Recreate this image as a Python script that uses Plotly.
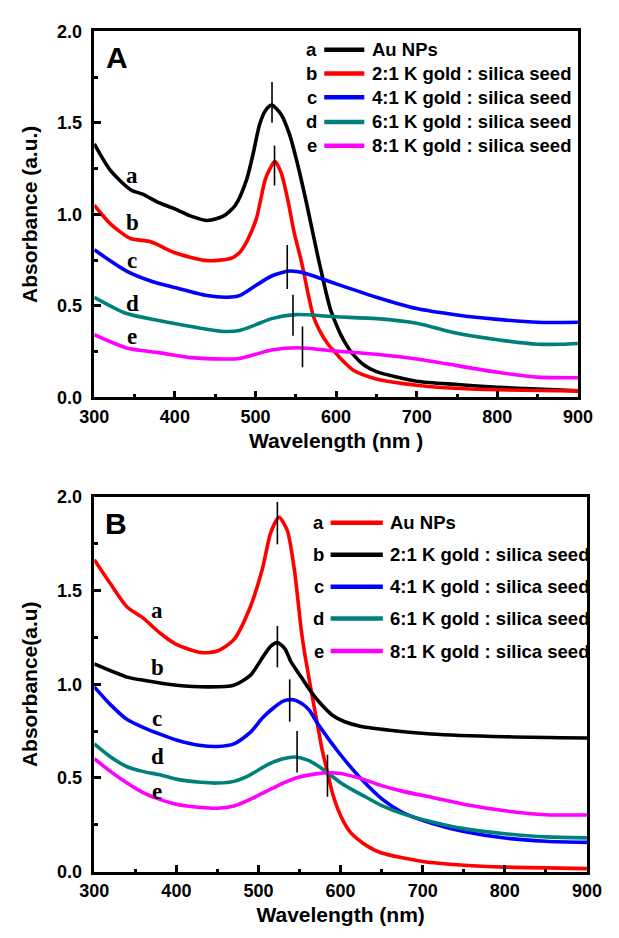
import plotly.graph_objects as go

# ---------------- Panel A data ----------------
A_a_x = [300, 320, 345, 360, 380, 400, 420, 440, 460, 475, 489, 497, 505, 512, 520, 532, 542, 552, 564, 576, 582, 587, 593, 600, 606, 613, 620, 635, 650, 700, 750, 800, 850, 900]
A_a_y = [1.385, 1.24, 1.135, 1.11, 1.064, 1.03, 0.99, 0.966, 0.99, 1.05, 1.19, 1.33, 1.49, 1.565, 1.597, 1.545, 1.44, 1.278, 1.047, 0.797, 0.68, 0.583, 0.48, 0.40, 0.34, 0.285, 0.24, 0.175, 0.14, 0.088, 0.07, 0.055, 0.045, 0.035]
A_b_x = [300, 320, 345, 370, 400, 440, 470, 480, 489, 501, 512, 518, 524, 532, 540, 548, 556, 560, 566, 572, 580, 590, 598, 606, 622, 650, 700, 767, 900]
A_b_y = [1.05, 0.948, 0.868, 0.85, 0.79, 0.747, 0.76, 0.79, 0.85, 0.975, 1.19, 1.25, 1.29, 1.225, 1.08, 0.90, 0.76, 0.68, 0.55, 0.44, 0.36, 0.29, 0.25, 0.21, 0.146, 0.10, 0.066, 0.045, 0.035]
A_c_x = [300, 340, 370, 400, 440, 465, 480, 500, 520, 542, 560, 600, 650, 700, 750, 800, 850, 900]
A_c_y = [0.806, 0.69, 0.636, 0.6, 0.556, 0.547, 0.556, 0.61, 0.663, 0.69, 0.68, 0.62, 0.547, 0.485, 0.45, 0.426, 0.41, 0.41]
A_d_x = [300, 340, 380, 420, 460, 480, 500, 520, 550, 600, 650, 700, 750, 800, 850, 880, 900]
A_d_y = [0.547, 0.458, 0.42, 0.387, 0.36, 0.365, 0.396, 0.43, 0.452, 0.44, 0.43, 0.405, 0.35, 0.315, 0.29, 0.29, 0.294]
A_e_x = [300, 340, 380, 420, 460, 480, 500, 520, 552, 600, 650, 700, 750, 800, 850, 900]
A_e_y = [0.342, 0.27, 0.244, 0.217, 0.209, 0.212, 0.235, 0.258, 0.271, 0.253, 0.235, 0.209, 0.173, 0.137, 0.11, 0.107]

# peak markers (wavelength, low, high)
A_peak_x = [520.5, 523.6, 539.4, 546.5, 558.3]
A_peak_lo = [1.50, 1.157, 0.592, 0.337, 0.164]
A_peak_hi = [1.724, 1.376, 0.833, 0.56, 0.387]

# ---------------- Panel B data ----------------
B_a_x = [300, 320, 340, 360, 380, 400, 430, 450, 470, 490, 505, 515, 525, 535, 544, 552, 556, 560, 564, 572, 578, 584, 590, 597, 604, 612, 620, 635, 650, 700, 750, 800, 900]
B_a_y = [1.664, 1.534, 1.412, 1.351, 1.273, 1.212, 1.169, 1.177, 1.238, 1.412, 1.62, 1.81, 1.89, 1.82, 1.60, 1.29, 1.17, 1.07, 0.97, 0.78, 0.64, 0.53, 0.42, 0.33, 0.264, 0.21, 0.177, 0.13, 0.10, 0.055, 0.035, 0.025, 0.017]
B_b_x = [300, 340, 360, 400, 440, 470, 490, 505, 515, 523, 532, 540, 552, 564, 575, 590, 605, 625, 660, 710, 800, 900]
B_b_y = [1.108, 1.038, 1.021, 0.995, 0.986, 0.995, 1.047, 1.143, 1.203, 1.222, 1.19, 1.116, 1.038, 0.96, 0.90, 0.835, 0.80, 0.775, 0.755, 0.735, 0.72, 0.713]
B_c_x = [300, 320, 340, 360, 380, 400, 430, 450, 470, 490, 505, 520, 530, 542, 555, 562, 572, 585, 597, 610, 624, 651, 675, 713, 750, 800, 850, 900]
B_c_y = [0.986, 0.89, 0.812, 0.769, 0.734, 0.703, 0.673, 0.668, 0.682, 0.743, 0.821, 0.88, 0.91, 0.917, 0.89, 0.86, 0.79, 0.71, 0.64, 0.57, 0.50, 0.386, 0.317, 0.256, 0.215, 0.18, 0.163, 0.157]
B_d_x = [300, 320, 340, 360, 380, 400, 430, 450, 470, 490, 510, 530, 545, 560, 574, 585, 600, 614, 630, 651, 675, 713, 750, 800, 850, 900]
B_d_y = [0.682, 0.612, 0.56, 0.534, 0.517, 0.494, 0.477, 0.473, 0.482, 0.517, 0.569, 0.603, 0.612, 0.595, 0.56, 0.525, 0.475, 0.438, 0.40, 0.351, 0.31, 0.264, 0.23, 0.203, 0.186, 0.181]
B_e_x = [300, 320, 340, 360, 380, 400, 430, 450, 470, 490, 510, 530, 550, 570, 585, 600, 614, 630, 651, 675, 713, 750, 800, 850, 900]
B_e_y = [0.603, 0.534, 0.473, 0.421, 0.386, 0.36, 0.343, 0.339, 0.351, 0.386, 0.43, 0.473, 0.505, 0.522, 0.528, 0.524, 0.51, 0.49, 0.458, 0.43, 0.395, 0.36, 0.325, 0.304, 0.303]

B_peak_x = [523, 523, 538, 547, 584]
B_peak_lo = [1.746, 1.09, 0.80, 0.529, 0.40]
B_peak_hi = [1.972, 1.311, 1.026, 0.751, 0.624]

# ---------------- labels ----------------
letters = ["a", "b", "c", "d", "e"]
legend_names = ["Au NPs", "2:1 K gold : silica seed", "4:1 K gold : silica seed",
                "6:1 K gold : silica seed", "8:1 K gold : silica seed"]
A_colors = ["#000000", "#ff0000", "#0000ff", "#00807a", "#ff00ff"]
B_colors = ["#ff0000", "#000000", "#0000ff", "#00807a", "#ff00ff"]
A_label_x = [347, 347, 347, 347, 347]
A_label_y = [1.215, 0.957, 0.747, 0.515, 0.333]
B_label_x = [377, 377, 377, 377, 377]
B_label_y = [1.391, 1.09, 0.817, 0.612, 0.43]

# page is 619x938; the browser body adds an 8 px margin, so the figure is sized to fit inside it
PAGE_W, PAGE_H, OFF = 619, 938, 8
W, H = PAGE_W - 2 * OFF, PAGE_H - 2 * OFF


def dx(px0, px1):
    return [(px0 - OFF) / W, (px1 - OFF) / W]


def dy(top, bottom):
    return [1 - (bottom - OFF) / H, 1 - (top - OFF) / H]


SANS = "Liberation Sans, Arial, Helvetica, sans-serif"
SERIF = "Liberation Serif, Times New Roman, serif"

fig = go.Figure()

panels = [
    ("x", "y", [A_a_x, A_b_x, A_c_x, A_d_x, A_e_x], [A_a_y, A_b_y, A_c_y, A_d_y, A_e_y], A_colors,
     A_peak_x, A_peak_lo, A_peak_hi, A_label_x, A_label_y),
    ("x2", "y2", [B_a_x, B_b_x, B_c_x, B_d_x, B_e_x], [B_a_y, B_b_y, B_c_y, B_d_y, B_e_y], B_colors,
     B_peak_x, B_peak_lo, B_peak_hi, B_label_x, B_label_y),
]

for xa, ya, xs, ys, cols, px, plo, phi, lx, ly in panels:
    for i in range(5):
        fig.add_trace(go.Scatter(x=xs[i], y=ys[i], mode="lines", xaxis=xa, yaxis=ya,
                                 line=dict(color=cols[i], width=3.6, shape="spline", smoothing=0.7),
                                 name=legend_names[i], showlegend=False, hoverinfo="skip"))
    for i in range(len(px)):
        fig.add_trace(go.Scatter(x=[px[i], px[i]], y=[plo[i], phi[i]], mode="lines", xaxis=xa, yaxis=ya,
                                 line=dict(color="black", width=1.6), showlegend=False, hoverinfo="skip"))
    for i in range(5):
        fig.add_annotation(x=lx[i], y=ly[i], xref=xa, yref=ya, text=letters[i], showarrow=False,
                           font=dict(family=SERIF, size=23, color="black", weight="bold"))

# legends (drawn in axis coordinates)
leg_cfg = [
    ("x", "y", A_colors, 569.6, 585.3, 635.0, 642.2, [1.90, 1.77, 1.64, 1.505, 1.375]),
    ("x2", "y2", B_colors, 573.5, 587.8, 651.4, 657.3, [1.861, 1.690, 1.520, 1.351, 1.177]),
]
for xa, ya, cols, lx, l0, l1, tx, rows in leg_cfg:
    for i in range(5):
        fig.add_annotation(x=lx, y=rows[i], xref=xa, yref=ya, text=letters[i], showarrow=False,
                           font=dict(family=SANS, size=18.5, color="black", weight="bold"))
        fig.add_shape(type="line", xref=xa, yref=ya, x0=l0, x1=l1, y0=rows[i], y1=rows[i],
                      line=dict(color=cols[i], width=4.5))
        fig.add_annotation(x=tx, y=rows[i], xref=xa, yref=ya, text=legend_names[i], showarrow=False,
                           xanchor="left", font=dict(family=SANS, size=18.5, color="black", weight="bold"))

# panel letters
fig.add_annotation(x=328, y=1.856, xref="x", yref="y", text="A", showarrow=False,
                   font=dict(family=SANS, size=30, color="black", weight="bold"))
fig.add_annotation(x=327, y=1.856, xref="x2", yref="y2", text="B", showarrow=False,
                   font=dict(family=SANS, size=30, color="black", weight="bold"))

tickfont = dict(family=SANS, size=18, color="black", weight="bold")
titlefont = dict(family=SANS, size=21, color="black", weight="bold")


def xaxis_cfg(domain, anchor, title):
    return dict(domain=domain, anchor=anchor, range=[300, 900], showline=True, linewidth=2.5,
                linecolor="black", mirror=True, ticks="inside", ticklen=7, tickwidth=2.5,
                tickcolor="black", dtick=100, tick0=300, showgrid=False, zeroline=False,
                tickfont=tickfont, ticklabelstandoff=1,
                minor=dict(ticks="inside", ticklen=3.5, tickwidth=2.5, dtick=50, tickcolor="black", showgrid=False),
                title=dict(text=title, font=titlefont, standoff=8))


def yaxis_cfg(domain, anchor, title):
    return dict(domain=domain, anchor=anchor, range=[0, 2], showline=True, linewidth=2.5,
                linecolor="black", mirror=True, ticks="inside", ticklen=7, tickwidth=2.5,
                tickcolor="black", dtick=0.5, tick0=0, tickformat=".1f", showgrid=False, zeroline=False,
                tickfont=tickfont, ticklabelstandoff=6,
                minor=dict(ticks="inside", ticklen=3.5, tickwidth=2.5, dtick=0.25, tickcolor="black", showgrid=False),
                title=dict(text=title, font=titlefont, standoff=14))


fig.update_layout(
    width=W, height=H, margin=dict(l=0, r=0, t=0, b=0),
    paper_bgcolor="white", plot_bgcolor="white", showlegend=False,
    xaxis=xaxis_cfg(dx(83, 592), "y", "Wavelength (nm )"),
    yaxis=yaxis_cfg(dy(21.7, 395.7), "x", "Absorbance (a.u.)"),
    xaxis2=xaxis_cfg(dx(83, 601.5), "y2", "Wavelength (nm)"),
    yaxis2=yaxis_cfg(dy(497.3, 880.7), "x2", "Absorbance(a.u)"),
)

fig.write_html("out.html")
